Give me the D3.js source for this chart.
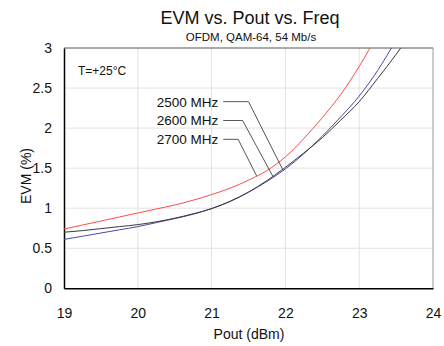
<!DOCTYPE html>
<html><head><meta charset="utf-8">
<script src="https://cdn.jsdelivr.net/npm/d3@7"></script>
<style>body{margin:0;background:#fff}svg{display:block;font-family:Arial,"Liberation Sans",sans-serif}</style>
</head><body><svg id="c" width="444" height="346"></svg>
<script>
const pout = [19,19.25,19.5,19.75,20,20.25,20.5,20.75,21,21.25,21.5,21.75,22,22.25,22.5,22.75,23,23.25,23.5,23.75];
const evm2700 = [0.74,0.79,0.84,0.89,0.94,0.99,1.04,1.10,1.17,1.25,1.35,1.47,1.64,1.87,2.13,2.42,2.77,3.17];
const evm2500 = [0.61,0.65,0.69,0.73,0.77,0.82,0.87,0.925,0.995,1.085,1.20,1.335,1.49,1.68,1.90,2.14,2.40,2.72,3.10];
const evm2600 = [0.70,0.72,0.745,0.77,0.795,0.83,0.875,0.93,0.995,1.085,1.20,1.345,1.51,1.69,1.88,2.10,2.33,2.62,2.92,3.25];
const xTicks = [19,20,21,22,23,24];
const yTicks = [0,0.5,1,1.5,2,2.5,3];
const seriesNames = ["2500 MHz","2600 MHz","2700 MHz"];
const seriesColors = ["#4848a8","#3a3a3a","#ff4a4a"];
const labelY = [2.33,2.095,1.86];
const labelX = 21.09;
const elbowX = [21.50,21.42,21.36];
const endX = [21.97,21.83,21.61];

const series = [evm2500, evm2600, evm2700];
const svg = d3.select("#c");
const L=64,R=433,T=48,B=288.3;
const x = d3.scaleLinear().domain([19,24]).range([L,R]);
const y = d3.scaleLinear().domain([0,3]).range([B,T]);

// grid
svg.append("g").selectAll("line").data(xTicks.slice(1,-1)).join("line")
  .attr("x1",d=>x(d)).attr("x2",d=>x(d)).attr("y1",T).attr("y2",B)
  .attr("stroke","#e2e2e2").attr("stroke-width",1);
svg.append("g").selectAll("line").data(yTicks.slice(1,-1)).join("line")
  .attr("x1",L).attr("x2",R).attr("y1",d=>y(d)).attr("y2",d=>y(d))
  .attr("stroke","#e2e2e2").attr("stroke-width",1);

// frame
svg.append("line").attr("x1",L).attr("x2",R).attr("y1",T).attr("y2",T).attr("stroke","#555");
svg.append("line").attr("x1",R).attr("x2",R).attr("y1",T).attr("y2",B).attr("stroke","#999");

// axes
const xAxis = d3.axisBottom(x).tickValues(xTicks).tickSize(0).tickPadding(20).tickFormat(d3.format("d"));
const gx = svg.append("g").attr("transform",`translate(0,${B})`).call(xAxis);
gx.select(".domain").attr("stroke","#000").attr("stroke-width",1.5);
gx.selectAll("text").attr("font-size",14).attr("font-family","Arial,'Liberation Sans',sans-serif").attr("fill","#111");
const yAxis = d3.axisLeft(y).tickValues(yTicks).tickSize(0).tickPadding(12).tickFormat(d=>d3.format("")(d));
const gy = svg.append("g").attr("transform",`translate(${L},0)`).call(yAxis);
gy.select(".domain").attr("stroke","#000").attr("stroke-width",1.5);
gy.selectAll("text").attr("font-size",14).attr("font-family","Arial,'Liberation Sans',sans-serif").attr("fill","#111");

// clip
svg.append("clipPath").attr("id","clip").append("rect").attr("x",L).attr("y",T).attr("width",R-L).attr("height",B-T);
const line = d3.line().curve(d3.curveMonotoneX).x((d,i)=>x(pout[i])).y(d=>y(d));
svg.append("g").attr("clip-path","url(#clip)").selectAll("path").data(series).join("path")
  .attr("d",line).attr("fill","none").attr("stroke",(d,i)=>seriesColors[i]).attr("stroke-width",1);

// interpolate series value at xv
function valAt(s, xv){
  for(let i=0;i<s.length-1;i++){ if(xv>=pout[i]&&xv<=pout[i+1]){const t=(xv-pout[i])/(pout[i+1]-pout[i]);return s[i]+t*(s[i+1]-s[i]);} }
  return s[s.length-1];
}
// labels + leaders
seriesNames.forEach((n,i)=>{
  svg.append("text").attr("x",x(labelX)).attr("y",y(labelY[i])+5).attr("text-anchor","end")
    .attr("font-size",13.5).attr("fill","#111").text(n);
  const pts=[[x(labelX)+5,y(labelY[i])],[x(elbowX[i]),y(labelY[i])],[x(endX[i]),y(valAt(series[i],endX[i]))]];
  svg.append("path").attr("d",d3.line()(pts)).attr("fill","none").attr("stroke","#555").attr("stroke-width",1);
});

svg.append("text").attr("x",78).attr("y",75).attr("font-size",12).attr("fill","#111").text("T=+25°C");
svg.append("text").attr("x",250).attr("y",24).attr("text-anchor","middle").attr("font-size",18).attr("fill","#111").text("EVM vs. Pout vs. Freq");
svg.append("text").attr("x",251).attr("y",41).attr("text-anchor","middle").attr("font-size",11.5).attr("fill","#111").text("OFDM, QAM-64, 54 Mb/s");
svg.append("text").attr("x",249).attr("y",339).attr("text-anchor","middle").attr("font-size",14).attr("fill","#111").text("Pout (dBm)");
svg.append("text").attr("transform","translate(31,176) rotate(-90)").attr("text-anchor","middle").attr("font-size",14).attr("fill","#111").text("EVM (%)");
</script></body></html>
